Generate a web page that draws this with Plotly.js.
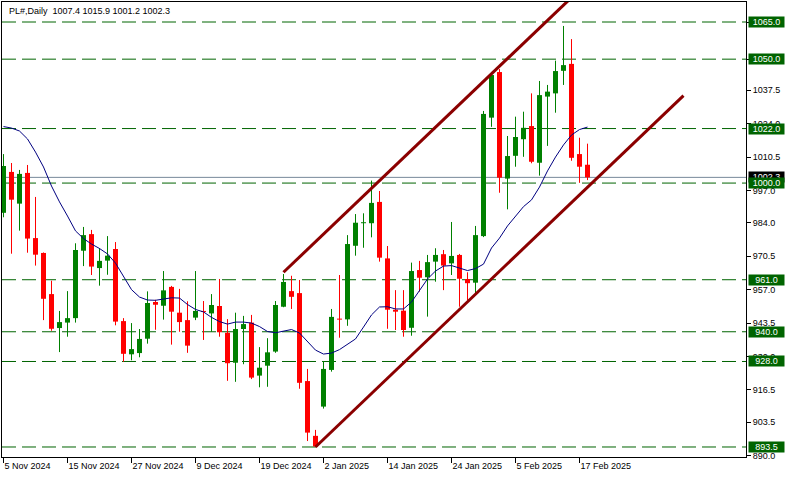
<!DOCTYPE html>
<html>
<head>
<meta charset="utf-8">
<script src="https://cdn.plot.ly/plotly-3.0.1.min.js"></script>
<style>html,body{margin:0;padding:0;background:#fff;}#chart{width:787px;height:480px;}</style>
</head>
<body>
<div id="chart"></div>
<script>
// ---- data ----
const dates = ['5 Nov 2024','6 Nov 2024','7 Nov 2024','8 Nov 2024','11 Nov 2024','12 Nov 2024','13 Nov 2024','14 Nov 2024',
 '15 Nov 2024','18 Nov 2024','19 Nov 2024','20 Nov 2024','21 Nov 2024','22 Nov 2024','25 Nov 2024','26 Nov 2024',
 '27 Nov 2024','28 Nov 2024','29 Nov 2024','2 Dec 2024','3 Dec 2024','4 Dec 2024','5 Dec 2024','6 Dec 2024',
 '9 Dec 2024','10 Dec 2024','11 Dec 2024','12 Dec 2024','13 Dec 2024','16 Dec 2024','17 Dec 2024','18 Dec 2024',
 '19 Dec 2024','20 Dec 2024','23 Dec 2024','24 Dec 2024','26 Dec 2024','27 Dec 2024','30 Dec 2024','31 Dec 2024',
 '2 Jan 2025','3 Jan 2025','6 Jan 2025','7 Jan 2025','8 Jan 2025','9 Jan 2025','10 Jan 2025','13 Jan 2025',
 '14 Jan 2025','15 Jan 2025','16 Jan 2025','17 Jan 2025','20 Jan 2025','21 Jan 2025','22 Jan 2025','23 Jan 2025',
 '24 Jan 2025','27 Jan 2025','28 Jan 2025','29 Jan 2025','30 Jan 2025','31 Jan 2025','3 Feb 2025','4 Feb 2025',
 '5 Feb 2025','6 Feb 2025','7 Feb 2025','10 Feb 2025','11 Feb 2025','12 Feb 2025','13 Feb 2025','14 Feb 2025',
 '17 Feb 2025','18 Feb 2025'];

const openP = [988.0,1004.5,991.7,1004.1,977.8,971.8,955.2,941.5,943.7,945.5,972.7,979.4,965.7,968.7,973.4,944.3,
 930.9,931.4,937.2,952.0,950.5,958.1,947.7,944.7,945.7,948.4,947.4,950.4,939.6,927.5,941.1,943.7,
 922.3,926.3,932.0,950.1,956.4,955.6,920.1,898.0,909.8,924.6,945.3,945.0,974.7,983.8,983.8,992.4,
 969.6,948.9,948.5,941.6,964.9,962.0,968.3,971.3,967.6,971.0,961.3,959.8,978.6,1026.4,1044.8,1001.8,
 1011.0,1017.7,1023.0,1008.2,1034.9,1036.2,1045.3,1048.1,1011.7,1007.4];
const highP = [1011.7,1008.1,1005.3,1007.3,994.4,972.0,960.6,948.4,956.4,975.7,982.3,981.1,973.8,978.6,976.2,945.5,
 943.5,941.1,956.3,952.9,964.5,958.5,957.3,952.3,964.5,952.4,955.2,961.3,945.1,947.7,946.4,946.8,
 933.8,937.4,952.4,963.3,962.6,960.9,925.0,900.4,928.2,949.2,962.9,979.0,987.5,987.8,1001.0,996.8,
 974.6,956.8,956.8,967.9,968.6,971.0,973.7,973.0,984.3,971.4,964.0,982.7,1029.1,1044.3,1046.0,1019.0,
 1026.8,1028.8,1036.2,1041.2,1039.6,1049.4,1063.4,1058.1,1018.3,1015.9];
const lowP = [986.2,971.5,980.8,971.9,966.7,944.7,940.4,931.8,938.0,943.7,966.5,962.9,958.6,963.0,942.6,927.9,
 928.5,929.7,935.2,940.8,944.9,934.8,940.0,931.5,944.7,936.7,940.0,938.0,920.2,919.8,926.9,920.9,
 917.6,917.8,931.5,949.9,949.2,917.0,895.9,893.5,909.0,923.9,937.6,942.4,970.7,973.9,978.1,968.3,
 941.2,940.7,938.0,938.4,956.2,946.1,960.2,956.8,962.9,950.1,952.8,955.5,978.2,1022.7,996.1,989.4,
 1006.6,1010.6,1008.0,1003.0,1015.0,1028.4,1039.6,1009.0,1000.1,1001.2];
const closeP = [1006.9,993.3,1003.7,977.6,971.1,953.3,941.2,943.9,945.5,973.0,979.0,966.3,968.6,970.7,944.1,931.1,
 933.0,937.1,951.6,950.9,956.7,948.1,943.9,934.4,948.4,948.0,950.8,939.8,927.3,941.1,943.1,921.5,
 925.5,931.7,950.8,960.1,954.1,919.4,899.3,893.7,925.0,946.0,944.9,975.4,984.0,984.2,992.0,969.9,
 948.9,948.1,940.7,964.5,961.8,968.1,971.0,966.7,970.6,961.4,959.6,979.0,1027.9,1043.6,1002.2,1010.9,
 1018.6,1022.3,1008.6,1035.5,1036.9,1045.2,1047.6,1010.2,1006.6,1002.3];
const maP = [1022.8,1022.2,1021.0,1017.8,1012.5,1006.5,998.8,992.4,986.7,980.7,977.6,975.4,973.6,971.4,967.7,962.1,
 957.0,954.0,952.8,952.7,953.3,953.7,953.6,951.0,949.0,948.0,945.8,944.1,943.1,943.9,943.9,943.5,
 942.1,940.1,939.6,940.3,940.9,939.5,936.1,932.6,931.0,931.4,932.8,934.8,937.1,941.9,946.8,950.0,
 950.1,949.2,949.2,952.0,956.6,961.3,964.5,966.5,966.7,965.7,964.7,965.5,967.3,973.8,977.8,982.7,
 986.7,990.5,993.2,998.4,1004.9,1010.5,1015.4,1019.4,1021.6,1022.6];

const levels = [1065.0, 1050.0, 1022.0, 1000.0, 961.0, 940.0, 928.0, 893.5];
const channelLowerX = [39, 85];
const channelLowerY = [893.5, 1035.3];
const channelUpperX = [35, 85];
const channelUpperY = [964.0, 1118.0];

const yTickVals = [1065.0,1050.0,1037.5,1024.0,1010.5,997.0,984.0,970.5,957.0,943.5,930.0,916.5,903.5,890.0];
const xTickLabels = ['5 Nov 2024','15 Nov 2024','27 Nov 2024','9 Dec 2024','19 Dec 2024','2 Jan 2025',
 '14 Jan 2025','24 Jan 2025','5 Feb 2025','17 Feb 2025'];
const symbol = 'PL#,Daily';

// ---- build ----
const FONT = 'Liberation Sans, Arial, sans-serif';
const UP = '#008000', DOWN = '#ff0000';
const idx = dates.map((d, i) => i);
const n = dates.length;
const last = n - 1;

function wicks(cond) {
  const x = [], y = [];
  for (let i = 0; i < n; i++) {
    if (cond(i)) { x.push(i, i, null); y.push(lowP[i], highP[i], null); }
  }
  return {x, y};
}
const isUp = i => closeP[i] >= openP[i];
const wu = wicks(isUp), wd = wicks(i => !isUp(i));
const upI = idx.filter(isUp), dnI = idx.filter(i => !isUp(i));

const traces = [
  {type:'scatter', mode:'lines', x:wu.x, y:wu.y, line:{color:UP, width:1}, hoverinfo:'skip', showlegend:false},
  {type:'scatter', mode:'lines', x:wd.x, y:wd.y, line:{color:DOWN, width:1}, hoverinfo:'skip', showlegend:false},
  {type:'bar', x:upI, base:upI.map(i => openP[i]), y:upI.map(i => closeP[i] - openP[i]),
   width:0.625, marker:{color:UP, line:{width:0}}, showlegend:false},
  {type:'bar', x:dnI, base:dnI.map(i => closeP[i]), y:dnI.map(i => openP[i] - closeP[i]),
   width:0.625, marker:{color:DOWN, line:{width:0}}, showlegend:false},
  {type:'scatter', mode:'lines', x:idx, y:maP, line:{color:'#000080', width:1}, showlegend:false},
  {type:'scatter', mode:'lines', x:channelUpperX, y:channelUpperY, line:{color:'#8b0000', width:3}, showlegend:false},
  {type:'scatter', mode:'lines', x:channelLowerX, y:channelLowerY, line:{color:'#8b0000', width:3}, showlegend:false}
];

const shapes = levels.map(v => ({type:'line', xref:'paper', x0:0, x1:1, yref:'y', y0:v, y1:v,
  line:{color:'#006400', width:1, dash:'14px,6px'}, layer:'below'}));
shapes.push({type:'line', xref:'paper', x0:0, x1:1, yref:'y', y0:closeP[last], y1:closeP[last],
  line:{color:'#778899', width:1}, layer:'below'});

const annotations = [];
annotations.push({xref:'paper', x:1, xanchor:'left', xshift:2, yref:'y', y:closeP[last], yanchor:'middle',
  text:closeP[last].toFixed(1), showarrow:false, bgcolor:'#000000', borderpad:0, width:35, height:10,
  font:{family:FONT, size:9, color:'#ffffff'}});
levels.forEach(v => annotations.push({xref:'paper', x:1, xanchor:'left', xshift:2, yref:'y', y:v, yanchor:'middle',
  text:v.toFixed(1), showarrow:false, bgcolor:'#006400', borderpad:0, width:35, height:10,
  font:{family:FONT, size:9, color:'#ffffff'}}));
annotations.push({xref:'paper', x:0, xanchor:'left', xshift:5, yref:'paper', y:1, yanchor:'top', yshift:-2,
  text:symbol + '  ' + [openP[last], highP[last], lowP[last], closeP[last]].map(v => v.toFixed(1)).join(' '),
  showarrow:false, font:{family:FONT, size:9, color:'#000000'}});

// tick labels fully hidden under a level label are left blank
const yTickText = yTickVals.map(v => levels.includes(v) ? '' : v.toFixed(1));

const layout = {
  width:787, height:480,
  margin:{l:2, r:41, t:2, b:23, pad:0},
  paper_bgcolor:'#ffffff', plot_bgcolor:'#ffffff',
  barmode:'overlay', showlegend:false, hovermode:false,
  font:{family:FONT, size:9, color:'#000000'},
  xaxis:{range:[-0.1875, 92.8125], showgrid:false, zeroline:false, showline:true, linecolor:'#000', linewidth:1,
    mirror:true, ticks:'outside', ticklen:5, tickcolor:'#000', tickwidth:1,
    tickvals:xTickLabels.map(d => dates.indexOf(d)), ticktext:xTickLabels,
    ticklabelposition:'outside right', tickfont:{family:FONT, size:9, color:'#000'}},
  yaxis:{side:'right', range:[889.46, 1073.07], showgrid:false, zeroline:false, showline:true, linecolor:'#000',
    linewidth:1, mirror:true, ticks:'outside', ticklen:4, tickcolor:'#000', tickwidth:1,
    tickvals:yTickVals, ticktext:yTickText,
    tickfont:{family:FONT, size:9, color:'#000'}},
  shapes:shapes, annotations:annotations
};

Plotly.newPlot('chart', traces, layout, {staticPlot:true, displayModeBar:false});
</script>
</body>
</html>
